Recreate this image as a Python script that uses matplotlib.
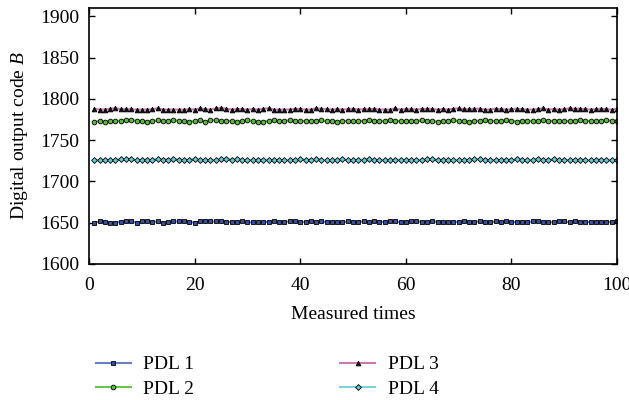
import numpy as np
import matplotlib
matplotlib.use("Agg")
import matplotlib.pyplot as plt

# measured index 1..100
times = list(range(1, 101))

pdl1 = [1650, 1651.5, 1651, 1650, 1650, 1651, 1651.5, 1651.5, 1650, 1651.5,
        1651.5, 1651, 1651.5, 1650, 1651, 1651.5, 1651.5, 1651.5, 1651, 1650,
        1651.5, 1651.5, 1651.5, 1651.5, 1651.5, 1651, 1651, 1650.5, 1651.5, 1650.5,
        1650.5, 1650.5, 1651, 1651, 1651.5, 1650.5, 1651, 1651.5, 1651.5, 1650.5,
        1651, 1651.5, 1650.5, 1651.5, 1651, 1651, 1650.5, 1650.5, 1651.5, 1651,
        1651, 1651.5, 1650.5, 1651.5, 1651, 1651, 1651.5, 1651.5, 1650.5, 1651,
        1651.5, 1651.5, 1651, 1650.5, 1651.5, 1651, 1651, 1650.5, 1651, 1651,
        1651.5, 1650.5, 1651, 1651.5, 1651, 1650.5, 1651.5, 1651, 1651.5, 1651,
        1650.5, 1651, 1650.5, 1651.5, 1651.5, 1651, 1650.5, 1650.5, 1651.5, 1651.5,
        1650.5, 1651.5, 1651, 1650.5, 1651, 1651, 1650.5, 1651, 1650.5, 1651.5]

pdl2 = [1772.5, 1773, 1772.5, 1773, 1773, 1773.5, 1774, 1774, 1773.5, 1773,
        1772.5, 1773, 1774, 1773, 1773.5, 1774, 1773.5, 1773, 1772.5, 1773,
        1774, 1772.5, 1774, 1774, 1773.5, 1773.5, 1773, 1772.5, 1773, 1774,
        1773, 1772.5, 1772.5, 1773, 1774, 1773, 1773.5, 1774, 1773.5, 1773,
        1773, 1773, 1773.5, 1774, 1773, 1773.5, 1772.5, 1773, 1773.5, 1773,
        1773, 1773.5, 1774, 1773.5, 1773, 1773, 1774, 1773.5, 1773, 1773,
        1773.5, 1773, 1774, 1773.5, 1773, 1772.5, 1773, 1773.5, 1774, 1773,
        1773, 1772.5, 1773, 1773.5, 1774, 1773.5, 1773, 1773, 1774, 1773.5,
        1772.5, 1773.5, 1773.5, 1773, 1773.5, 1774, 1773, 1773.5, 1773.5, 1773,
        1773, 1773.5, 1774, 1773.5, 1773, 1773.5, 1773.5, 1774, 1773.5, 1773]

pdl3 = [1788, 1787, 1787, 1788, 1788.5, 1787.5, 1787.5, 1787.5, 1787, 1787,
        1787, 1787.5, 1788.5, 1787, 1787, 1787, 1787, 1787, 1787.5, 1787,
        1788.5, 1787.5, 1787, 1788.5, 1789, 1788, 1787, 1787.5, 1787.5, 1787,
        1787.5, 1787, 1788, 1788.5, 1787, 1787, 1787, 1787, 1788, 1787.5,
        1787, 1787, 1788.5, 1788, 1787.5, 1787, 1787.5, 1787, 1787.5, 1788,
        1787, 1787.5, 1787.5, 1788, 1787, 1787, 1787, 1788.5, 1787, 1787.5,
        1787.5, 1787, 1787.5, 1788, 1787.5, 1787, 1787.5, 1787, 1788, 1788.5,
        1787.5, 1787.5, 1788, 1788, 1787, 1787, 1788, 1787.5, 1787, 1787.5,
        1788, 1787.5, 1787, 1787, 1787.5, 1788.5, 1787, 1787.5, 1787, 1787.5,
        1788.5, 1788, 1788, 1787.5, 1787, 1787.5, 1788, 1787.5, 1787, 1788]

pdl4 = [1725.5, 1726, 1726, 1725.5, 1726, 1727, 1727, 1727, 1725.5, 1726,
        1726.5, 1726, 1727, 1726.5, 1726.5, 1727, 1726.5, 1726, 1726.5, 1727,
        1726, 1725.5, 1725.5, 1726, 1727, 1727.5, 1726.5, 1727, 1725.5, 1726,
        1726, 1726.5, 1726, 1726.5, 1726, 1726, 1725.5, 1725.5, 1726, 1727,
        1726, 1726.5, 1727, 1726, 1726, 1725.5, 1726, 1727, 1725.5, 1726,
        1726, 1726.5, 1727, 1725.5, 1726, 1726, 1725.5, 1726.5, 1726, 1726,
        1725.5, 1726, 1726.5, 1727, 1727, 1726, 1726.5, 1726, 1725.5, 1726,
        1726, 1726.5, 1727, 1727, 1726, 1726, 1725.5, 1726, 1726.5, 1726,
        1727, 1726.5, 1725.5, 1726.5, 1727, 1726, 1726, 1727, 1726, 1726.5,
        1725.5, 1726, 1726.5, 1726, 1725.5, 1726, 1726.5, 1726, 1726, 1726]

series = [
    ("PDL 1", pdl1, "#6a7fc2", "s", "#3a4f9a"),
    ("PDL 2", pdl2, "#66c844", "o", "#5cb83c"),
    ("PDL 3", pdl3, "#cc78b8", "^", "#111111"),
    ("PDL 4", pdl4, "#78d4e0", "D", "#68c8d4"),
]

plt.rcParams["font.family"] = ["Liberation Serif", "DejaVu Serif"]
plt.rcParams["mathtext.fontset"] = "custom"
plt.rcParams["mathtext.it"] = "Liberation Serif:italic"

FS = 14

fig = plt.figure(figsize=(6.29, 4.0), dpi=100)
ax = fig.add_axes([0.1415, 0.34, 0.8395, 0.64])

for label, vals, color, marker, face in series:
    ms = 3.0 if marker == "D" else 3.4
    ax.plot(times, vals, color=color, linewidth=1.5, marker=marker,
            markersize=ms, markerfacecolor=face, markeredgecolor="black",
            markeredgewidth=0.6, label=label)

ax.set_xlim(0, 100)
ax.set_ylim(1600, 1910)
ax.set_xticks(np.arange(0, 101, 20))
ax.set_yticks(np.arange(1600, 1901, 50))
ax.tick_params(direction="in", top=True, right=True, length=4, width=1,
               labelsize=FS, pad=7)
ax.tick_params(axis="x", pad=9)
for sp in ax.spines.values():
    sp.set_linewidth(1.2)

ax.set_xlabel("Measured times", fontsize=FS, labelpad=9)
ax.set_ylabel("Digital output code $B$", fontsize=FS, labelpad=7)

fig.legend(loc="upper left", bbox_to_anchor=(0.14, 0.13), ncol=2,
           frameon=False, fontsize=FS, handlelength=1.8, handletextpad=0.65,
           columnspacing=7.5, labelspacing=0.35, borderaxespad=0)

fig.savefig("out.png", dpi=100)
